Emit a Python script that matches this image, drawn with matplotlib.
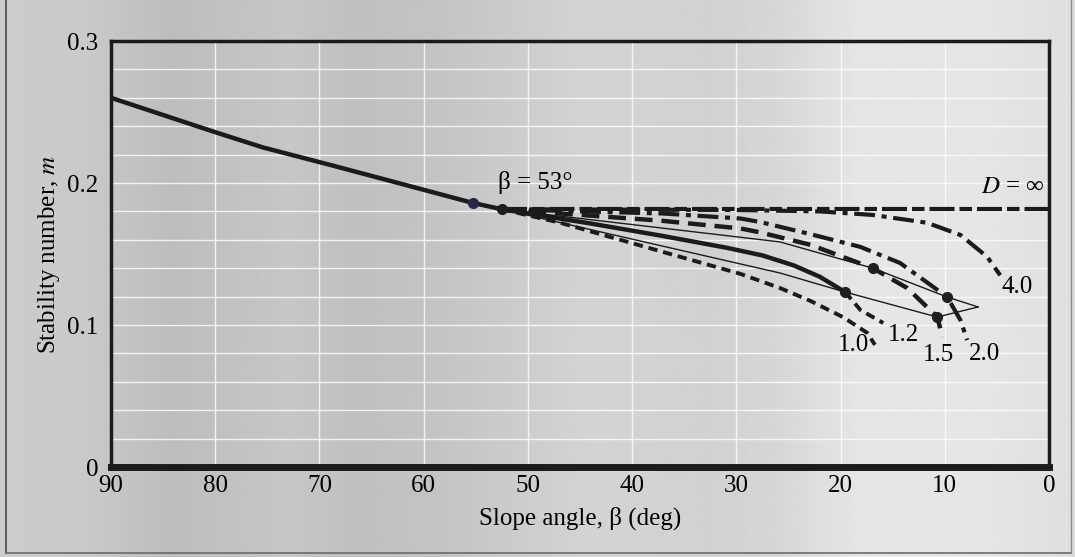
import numpy as np
import matplotlib
matplotlib.use("Agg")
import matplotlib.pyplot as plt
from matplotlib.ticker import MultipleLocator

plt.rcParams['font.family'] = ['Liberation Serif', 'DejaVu Serif']
plt.rcParams['mathtext.fontset'] = 'stix'

# slope angle (deg) / stability number
beta_toe = [90, 80.3, 78.6, 75.4, 69.0, 62.55, 55.3, 52.5]
m_toe = [0.260, 0.2365, 0.2325, 0.2250, 0.2128, 0.2002, 0.186, 0.1815]

beta_d10 = [52.5, 46.9, 37.3, 29.6, 25.8, 22.9, 19.75, 17.45, 16.7]
m_d10 = [0.1815, 0.172, 0.152, 0.136, 0.126, 0.117, 0.1055, 0.0945, 0.086]

beta_d12 = [52.5, 44, 37.3, 31, 27.5, 24.5, 22, 19.56]
m_d12 = [0.1815, 0.1715, 0.163, 0.1545, 0.149, 0.142, 0.134, 0.1232]
beta_d12_end = [19.56, 18.1, 15.9]
m_d12_end = [0.1232, 0.1106, 0.1014]

beta_d15 = [52.5, 37.3, 29.6, 27.7, 22.9, 16.9, 13.6, 10.7, 10.25]
m_d15 = [0.1815, 0.1735, 0.168, 0.1652, 0.1565, 0.140, 0.126, 0.1056, 0.0915]

beta_d20 = [52.5, 37, 29.6, 27.7, 22.9, 18.1, 14.3, 11.1, 9.77, 8.5, 7.85]
m_d20 = [0.1815, 0.1785, 0.175, 0.1725, 0.164, 0.155, 0.1437, 0.1268, 0.1197, 0.1035, 0.0894]

beta_d40 = [52.5, 30, 22, 16.9, 11.7, 8.5, 5.93, 4.68]
m_d40 = [0.1815, 0.181, 0.180, 0.1775, 0.172, 0.1634, 0.148, 0.135]

beta_dinf = [52.5, 0]
m_dinf = [0.1815, 0.1815]

# thin boundary lines
beta_thin_up = [52.5, 25.8, 16.9, 9.77, 6.8]
m_thin_up = [0.1815, 0.1585, 0.140, 0.1197, 0.1127]
beta_thin_lo = [52.5, 25.8, 19.56, 10.73, 6.8]
m_thin_lo = [0.1815, 0.1366, 0.1232, 0.1056, 0.1127]

beta_dots = [55.3, 52.5, 19.56, 16.9, 10.73, 9.77]
m_dots = [0.186, 0.1815, 0.1232, 0.140, 0.1056, 0.1197]

curve_labels = ["1.0", "1.2", "1.5", "2.0", "4.0"]
label_beta = [18.8, 14.0, 10.6, 6.2, 3.05]
label_m = [0.086, 0.093, 0.079, 0.0796, 0.127]

W, H = 1075, 557
fig = plt.figure(figsize=(W / 100, H / 100), dpi=100)

# scanned paper tone, darker on the left
bg = fig.add_axes([0, 0, 1, 1])
stops_x = [0, 0.08, 0.16, 0.27, 0.33, 0.41, 0.55, 0.66, 0.72, 0.8, 0.92, 1.0]
stops_g = [0.80, 0.79, 0.74, 0.78, 0.75, 0.77, 0.83, 0.82, 0.84, 0.90, 0.90, 0.87]
tone = np.interp(np.linspace(0, 1, 400), stops_x, stops_g)
bg.imshow(tone[None, :], cmap='gray', vmin=0, vmax=1, aspect='auto',
          extent=[0, 1, 0, 1])
bg.set_axis_off()

ax = fig.add_axes([111 / W, 1 - 467 / H, 938 / W, 426 / H])
ax.set_facecolor('none')

ink = '#1b1b1b'
ax.plot(beta_thin_up, m_thin_up, color=ink, lw=1.0)
ax.plot(beta_thin_lo, m_thin_lo, color=ink, lw=1.0)
ax.plot(beta_dinf, m_dinf, color=ink, lw=3.0, ls=(0, (6, 1.2, 3, 1.2)))
ax.plot(beta_d40, m_d40, color=ink, lw=3.0, ls=(0, (5, 1.6, 1.2, 1.6)))
ax.plot(beta_d20, m_d20, color=ink, lw=3.0, ls=(0, (5, 1.6, 1.2, 1.6)))
ax.plot(beta_d15, m_d15, color=ink, lw=3.2, ls=(0, (4, 2)))
ax.plot(beta_d10, m_d10, color=ink, lw=2.8, ls=(0, (2.4, 1.5)))
ax.plot(beta_d12_end, m_d12_end, color=ink, lw=2.8, ls=(0, (2.4, 1.5)))
ax.plot(beta_d12, m_d12, color=ink, lw=3.2)
ax.plot(beta_toe, m_toe, color=ink, lw=3.2)
ax.plot(beta_dots[:1], m_dots[:1], 'o', color='#26284a', ms=7)
ax.plot(beta_dots[1:], m_dots[1:], 'o', color='#1e1e24', ms=7)

ax.text(52.9, 0.2, r'β = 53°', fontsize=18, ha='left', va='center')
ax.text(0.4, 0.197, r'$D$ = ∞', fontsize=18, ha='right', va='center')
for t, b, mm in zip(curve_labels, label_beta, label_m):
    ax.text(b, mm, t, fontsize=18, ha='center', va='center')

ax.set_xlim(90, 0)
ax.set_ylim(0, 0.3)
ax.set_xticks(np.arange(90, -1, -10))
ax.set_yticks([0, 0.1, 0.2, 0.3])
ax.set_yticklabels(['0', '0.1', '0.2', '0.3'])
ax.yaxis.set_minor_locator(MultipleLocator(0.02))
ax.grid(True, which='major', color='white', lw=1.0, alpha=0.8)
ax.grid(True, which='minor', axis='y', color='white', lw=1.0, alpha=0.8)
ax.tick_params(length=0, labelsize=18, which='both')
ax.tick_params(axis='x', pad=6)
ax.tick_params(axis='y', pad=9)
for s in ['left', 'top', 'right']:
    ax.spines[s].set_linewidth(2.5)
    ax.spines[s].set_color(ink)
ax.spines['bottom'].set_linewidth(5)
ax.spines['bottom'].set_color(ink)

fig.text(580 / W, 1 - 518 / H, 'Slope angle, β (deg)', fontsize=18,
         ha='center', va='center')
fig.text(49 / W, 1 - 254 / H, r'Stability number, $m$', fontsize=18,
         ha='center', va='center', rotation=90)

# scan frame
fig.add_artist(plt.Line2D([6 / W, 6 / W], [1 - 553 / H, 1.0], color='#4a4a4a', lw=1.2))
fig.add_artist(plt.Line2D([6 / W, 1071 / W], [1 - 553 / H, 1 - 553 / H], color='#6a6a6a', lw=1.2))
fig.add_artist(plt.Line2D([1071 / W, 1071 / W], [1 - 553 / H, 1.0], color='#8a8a8a', lw=1.0))

fig.savefig('out.png', dpi=100)
